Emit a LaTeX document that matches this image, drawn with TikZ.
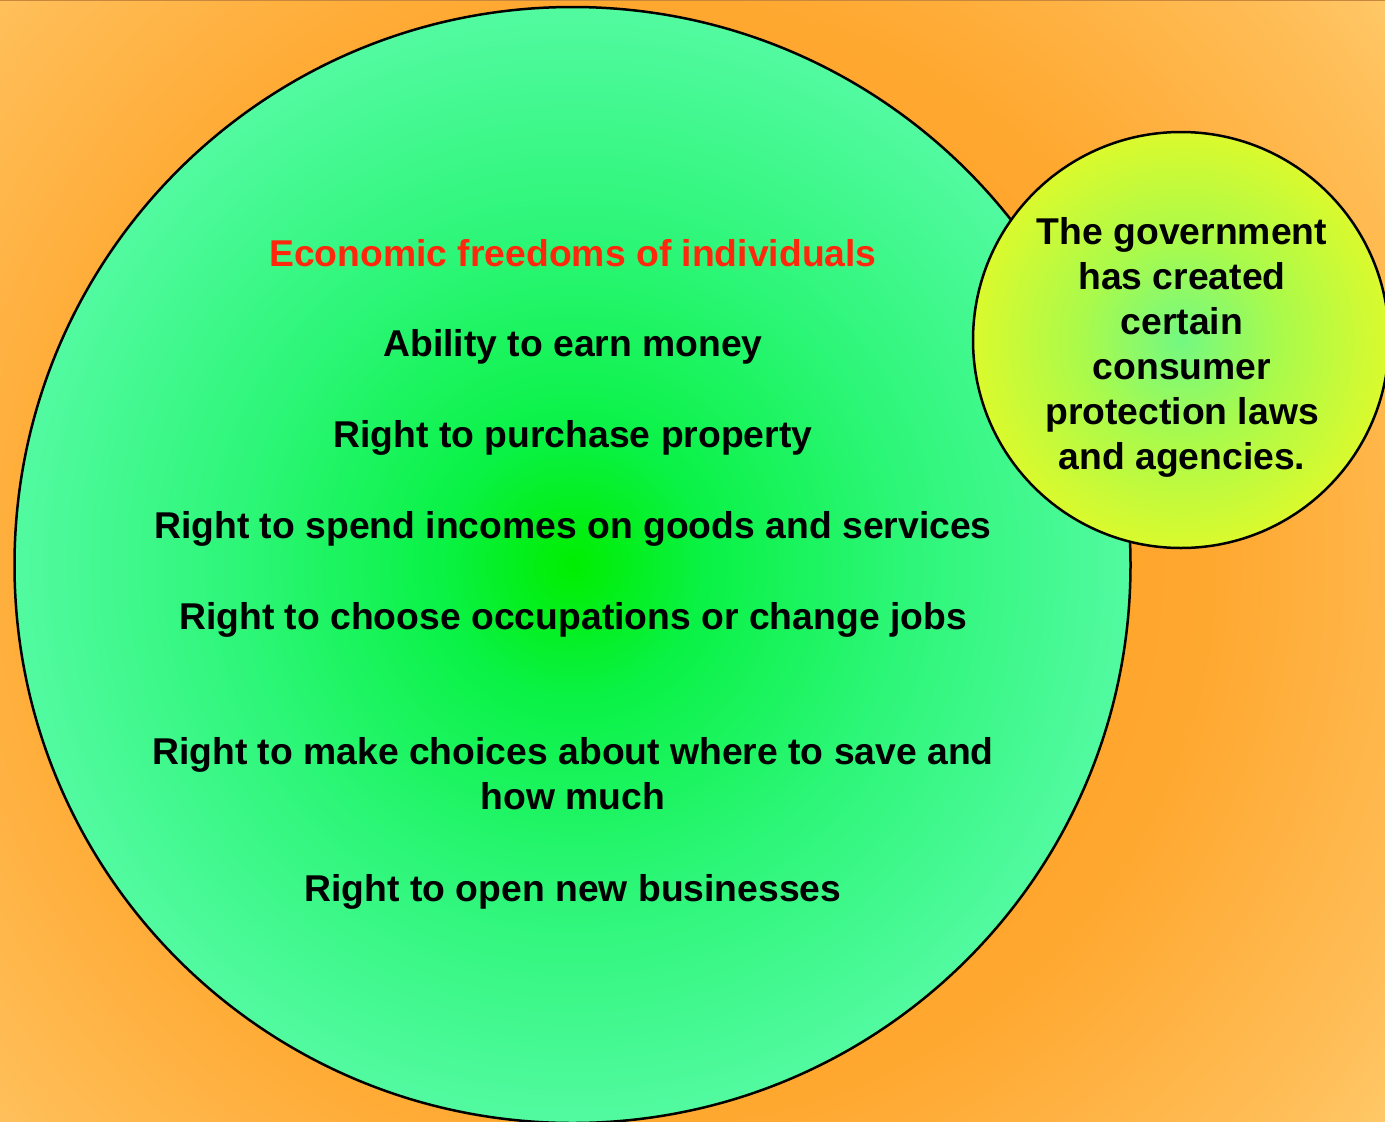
\documentclass[tikz,border=0pt]{standalone}
\usepackage{fontspec}
\setmainfont{Liberation Sans}
\definecolor{bgA}{RGB}{255,150,28}
\definecolor{bgB}{RGB}{255,168,48}
\definecolor{bgC}{RGB}{255,190,88}
\definecolor{bgD}{RGB}{255,204,110}
\definecolor{gA}{RGB}{0,238,0}
\definecolor{gB}{RGB}{10,242,70}
\definecolor{gC}{RGB}{45,246,120}
\definecolor{gD}{RGB}{82,250,160}
\definecolor{yA}{RGB}{115,248,130}
\definecolor{yB}{RGB}{170,250,75}
\definecolor{yC}{RGB}{218,250,45}
\definecolor{titlered}{RGB}{255,40,12}
\definecolor{topline}{RGB}{200,135,60}
\pgfdeclareradialshading{bgshade}{\pgfpoint{0bp}{0bp}}{color(0bp)=(bgA); color(14bp)=(bgB); color(21bp)=(bgC); color(24bp)=(bgD); color(50bp)=(bgD)}
\pgfdeclareradialshading{bigshade}{\pgfpoint{0bp}{0bp}}{color(0bp)=(gA); color(6bp)=(gB); color(15bp)=(gC); color(25bp)=(gD); color(50bp)=(gD)}
\pgfdeclareradialshading{smallshade}{\pgfpoint{0bp}{0bp}}{color(0bp)=(yA); color(12bp)=(yB); color(25bp)=(yC); color(50bp)=(yC)}
\tikzset{
  bigcircle/.style={circle, draw=black, line width=2.5pt, shading=bigshade, shade, inner sep=0pt, outer sep=0pt, minimum size=1116pt},
  smallcircle/.style={circle, draw=black, line width=2.5pt, shading=smallshade, shade, inner sep=0pt, outer sep=0pt, minimum size=416pt},
  itemtext/.style={anchor=base, inner sep=0pt, font=\fontsize{37.3}{45}\selectfont\bfseries, text=black},
  titletext/.style={itemtext, text=titlered}
}
\begin{document}
\begin{tikzpicture}[x=1pt, y=-1pt]
\useasboundingbox (0,0) rectangle (1385,1122);
\begin{scope}
  \clip (0,0) rectangle (1385,1122);
  \shade[shading=bgshade] (650,560) circle[radius=1000];
  \draw[topline, line width=1.5pt] (0,0.5) -- (1385,0.5);
  \node[bigcircle] (big) at (572.5,565) {};
  \node[smallcircle] (small) at (1181,340) {};
\end{scope}
\node[titletext] (title) at (573,266) {Economic freedoms of individuals};
\node[itemtext] (i1) at (573,356) {Ability to earn money};
\node[itemtext] (i2) at (573,447) {Right to purchase property};
\node[itemtext] (i3) at (573,538) {Right to spend incomes on goods and services};
\node[itemtext] (i4) at (573,629) {Right to choose occupations or change jobs};
\node[itemtext] (i5) at (573,764) {\begin{tabular}[t]{@{}c@{}}Right to make choices about where to save and\\how much\end{tabular}};
\node[itemtext] (i6) at (573,901) {Right to open new businesses};
\node[itemtext] (gov) at (1182,244) {\begin{tabular}[t]{@{}c@{}}The government\\has created\\certain\\consumer\\protection laws\\and agencies.\end{tabular}};
\end{tikzpicture}
\end{document}
